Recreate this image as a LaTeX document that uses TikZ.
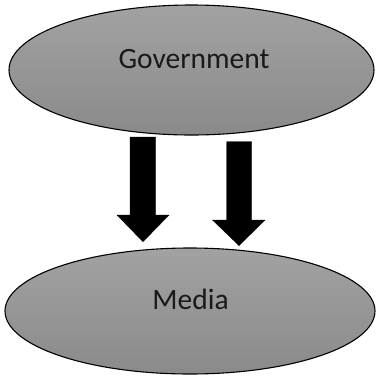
\documentclass[tikz,border=0pt]{standalone}
\usepackage{fontspec}
\setmainfont{Carlito}
\usetikzlibrary{shapes.geometric}
\definecolor{fillTop}{RGB}{162,162,162}
\definecolor{fillBot}{RGB}{138,138,138}
\definecolor{txt}{RGB}{26,26,26}
\tikzset{
  ell/.style={ellipse, draw=black, line width=1.1pt, top color=fillTop, bottom color=fillBot, inner sep=0pt},
  lbl/.style={anchor=base, text=txt, font=\fontsize{29.5}{31}\selectfont, inner sep=0pt},
  blockarrow/.style={fill=black, draw=black, line width=0.4pt}
}
\begin{document}
\begin{tikzpicture}[x=1pt,y=-1pt]
\useasboundingbox (0,0) rectangle (376,376);
\node[ell, minimum width=365pt, minimum height=130pt] (gov) at (191.5,70) {};
\node[ell, minimum width=370pt, minimum height=126pt] (media) at (190,311) {};
\node[lbl] (govtext) at (194,68) {Government};
\node[lbl] (mediatext) at (190.5,309) {Media};
\fill[blockarrow] (130,137) -- (155.7,137) -- (155.7,215) -- (169,215) -- (143,241.7) -- (117,215) -- (130,215) -- cycle;
\fill[blockarrow] (226.7,141.7) -- (251.7,141.7) -- (251.7,220) -- (265,220) -- (239,245.5) -- (212.5,220) -- (226.7,220) -- cycle;
\end{tikzpicture}
\end{document}
